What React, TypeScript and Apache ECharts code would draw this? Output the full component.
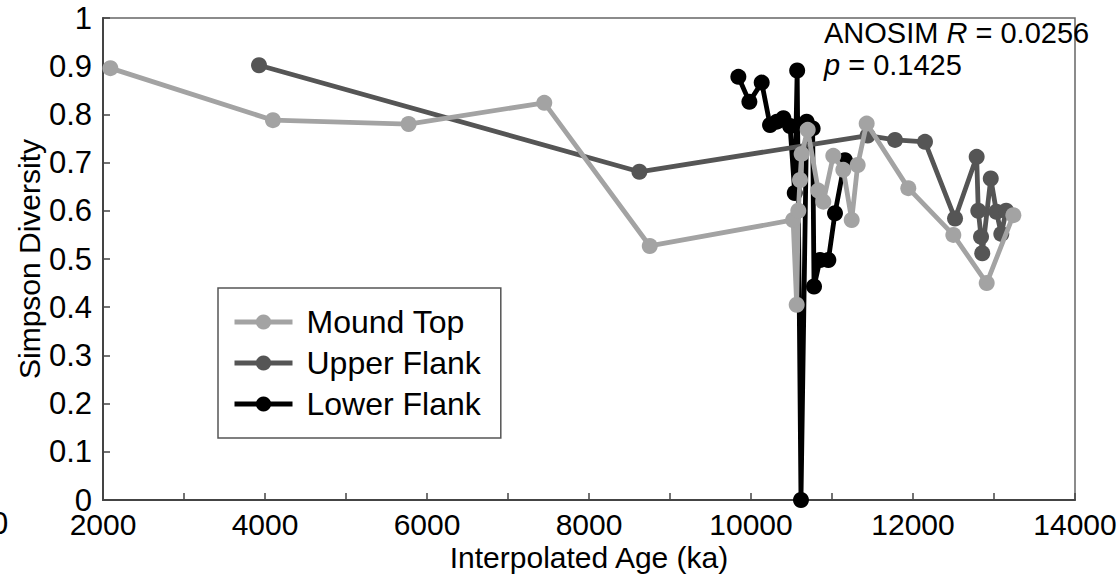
import React, { useEffect, useRef } from "react";
import * as echarts from "echarts";

const FONT = '"Liberation Sans", Arial, Helvetica, sans-serif';

const seriesNames = ["Mound Top", "Upper Flank", "Lower Flank"];
const seriesColors = ["#a3a3a3", "#555555", "#000000"];

// [interpolated age (ka), Simpson diversity]
const moundTop: [number, number][] = [
  [2091, 0.896], [4098, 0.788], [5773, 0.78], [7448, 0.824], [8750, 0.527],
  [10520, 0.581], [10564, 0.405], [10584, 0.6], [10605, 0.664], [10625, 0.718],
  [10700, 0.768], [10831, 0.642], [10893, 0.619], [11016, 0.714], [11140, 0.685],
  [11243, 0.581], [11317, 0.695], [11428, 0.781], [11942, 0.647], [12498, 0.55],
  [12910, 0.45], [13239, 0.591],
];
const upperFlank: [number, number][] = [
  [3926, 0.902], [8622, 0.681], [11440, 0.756], [11778, 0.747], [12148, 0.743],
  [12519, 0.584], [12786, 0.712], [12806, 0.6], [12840, 0.546], [12855, 0.512],
  [12960, 0.667], [13030, 0.598], [13090, 0.552], [13150, 0.6],
];
const lowerFlank: [number, number][] = [
  [9844, 0.878], [9980, 0.826], [10132, 0.866], [10235, 0.778], [10320, 0.785],
  [10400, 0.792], [10482, 0.776], [10540, 0.637], [10570, 0.891], [10617, 0.0],
  [10687, 0.785], [10761, 0.771], [10778, 0.443], [10852, 0.498], [10955, 0.498],
  [11037, 0.595], [11160, 0.705],
];
const seriesData = [moundTop, upperFlank, lowerFlank];

const xTitle = "Interpolated Age (ka)";
const yTitle = "Simpson Diversity";

export default function App() {
  const ref = useRef<HTMLDivElement>(null);
  useEffect(() => {
    if (!ref.current) return;
    const chart = echarts.init(ref.current, null, { renderer: "svg" });
    const axisColor = "#444";
    // draw order: Lower Flank at the bottom, Mound Top on top
    const order = [2, 1, 0];
    chart.setOption({
      animation: false,
      backgroundColor: "#fff",
      grid: {
        left: 103, right: 43, top: 18, bottom: 76,
        outerBoundsMode: "none",
        containLabel: false,
        show: true, borderColor: "#666", borderWidth: 1.5,
      },
      title: {
        left: 824, top: 17, padding: 0,
        text: "{n|ANOSIM }{i|R}{n| = 0.0256}\n{i|p}{n| = 0.1425}",
        textStyle: {
          fontWeight: "normal",
          rich: {
            n: { fontSize: 29, fontFamily: FONT, color: "#000", fontWeight: "normal", lineHeight: 32 },
            i: { fontSize: 29, fontFamily: FONT, color: "#000", fontWeight: "normal", fontStyle: "italic", lineHeight: 32 },
          },
        },
      },
      legend: {
        orient: "vertical",
        left: 218, top: 288,
        data: seriesNames,
        itemWidth: 58, itemHeight: 19, itemGap: 9,
        padding: [18, 20, 18, 14],
        borderColor: "#555", borderWidth: 1.5,
        backgroundColor: "#fff",
        lineStyle: { width: 5 },
        textStyle: { fontSize: 32, fontFamily: FONT, color: "#000", padding: [0, 0, 0, 9], lineHeight: 32 },
      },
      xAxis: {
        type: "value", min: 2000, max: 14000, interval: 1000,
        name: xTitle, nameLocation: "middle", nameGap: 42, nameMoveOverlap: false,
        nameTextStyle: { fontSize: 30, fontFamily: FONT, color: "#000" },
        axisLine: { lineStyle: { color: axisColor, width: 2 } },
        axisTick: { inside: true, length: 7, lineStyle: { color: axisColor, width: 1.5 } },
        axisLabel: {
          fontSize: 30, fontFamily: FONT, color: "#000", margin: 9,
          formatter: (v: number) => (v % 2000 === 0 ? String(v) : ""),
        },
        splitLine: { show: false },
      },
      yAxis: {
        type: "value", min: 0, max: 1, interval: 0.1,
        name: yTitle, nameLocation: "middle", nameGap: 59, nameRotate: 90, nameMoveOverlap: false,
        nameTextStyle: { fontSize: 30, fontFamily: FONT, color: "#000" },
        axisLine: { show: true, lineStyle: { color: axisColor, width: 2 } },
        axisTick: { show: true, inside: true, length: 7, lineStyle: { color: axisColor, width: 1.5 } },
        axisLabel: {
          fontSize: 31, fontFamily: FONT, color: "#000", margin: 11,
          formatter: (v: number) => (v === 0 ? "0" : v === 1 ? "1" : v.toFixed(1)),
        },
        splitLine: { show: false },
      },
      graphic: [
        {
          type: "text", left: -9, top: 508,
          style: { text: "0", fontSize: 31, fontFamily: FONT, fill: "#000" },
        },
      ],
      series: order.map((i, k) => ({
        type: "line",
        name: seriesNames[i],
        data: seriesData[i],
        z: 2 + k,
        symbol: "circle",
        symbolSize: 16,
        showAllSymbol: true,
        lineStyle: { color: seriesColors[i], width: 4.8 },
        itemStyle: { color: seriesColors[i] },
      })),
    });
    return () => chart.dispose();
  }, []);
  return (
    <div
      ref={ref}
      style={{ position: "fixed", left: 0, top: 0, width: 1118, height: 576, background: "#fff" }}
    />
  );
}
